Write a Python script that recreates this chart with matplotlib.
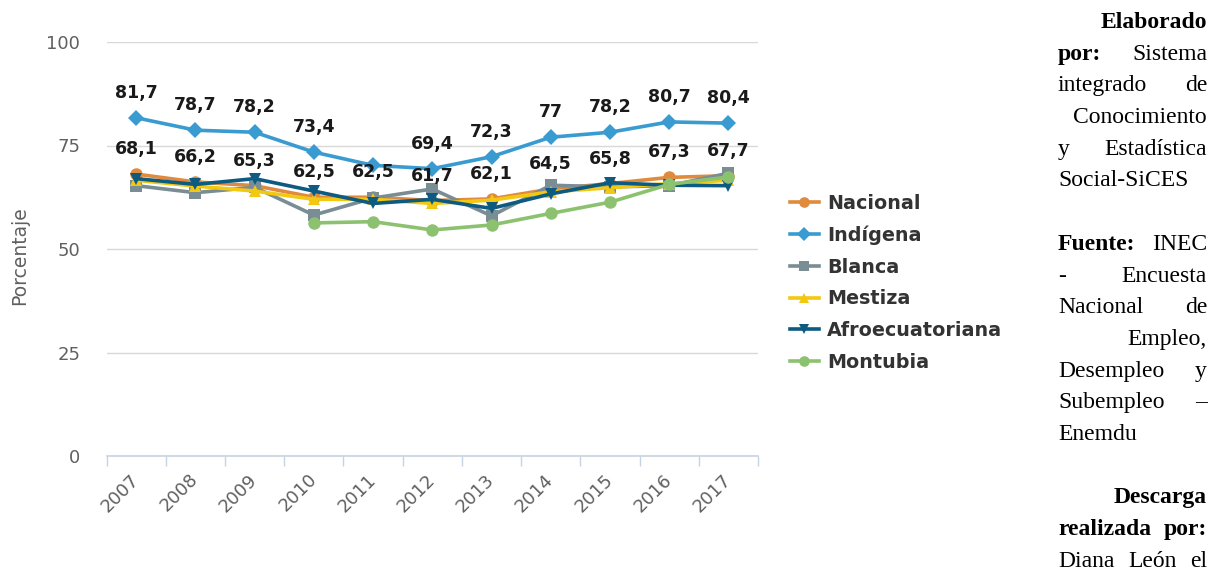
import numpy as np
import matplotlib
matplotlib.use("Agg")
import matplotlib.pyplot as plt

years = ["2007", "2008", "2009", "2010", "2011", "2012", "2013", "2014", "2015", "2016", "2017"]

nacional = [68.1, 66.2, 65.3, 62.5, 62.5, 61.7, 62.1, 64.5, 65.8, 67.3, 67.7]
indigena = [81.7, 78.7, 78.2, 73.4, 70.2, 69.4, 72.3, 77.0, 78.2, 80.7, 80.4]
blanca = [65.3, 63.6, 64.9, 58.2, 62.3, 64.5, 58.0, 65.4, 65.0, 65.3, 68.3]
mestiza = [66.6, 65.2, 64.0, 62.0, 62.0, 61.0, 61.8, 63.8, 64.8, 65.8, 66.6]
afro = [67.0, 65.6, 67.0, 64.0, 61.0, 62.0, 59.8, 63.3, 66.0, 65.4, 65.3]
montubia = [np.nan, np.nan, np.nan, 56.3, 56.6, 54.6, 55.8, 58.6, 61.3, 65.6, 67.4]

series_names = ["Nacional", "Indígena", "Blanca", "Mestiza", "Afroecuatoriana", "Montubia"]
series_vals = [nacional, indigena, blanca, mestiza, afro, montubia]
colors = ["#e08a3e", "#3a9bd0", "#7a8c94", "#f2c811", "#0d5b80", "#8cc26f"]
markers = ["o", "D", "s", "^", "v", "o"]

# which series get value labels (Indígena skips 2011)
label_series = {"Nacional": [True] * 11,
                "Indígena": [True, True, True, True, False, True, True, True, True, True, True]}

W, H = 1218, 571
fig = plt.figure(figsize=(W / 100, H / 100), dpi=100)
ax = fig.add_axes([106.6 / W, 1 - 456 / H, (758 - 106.6) / W, (456 - 42) / H])

x = np.arange(len(years))
for name, vals, c, m in zip(series_names, series_vals, colors, markers):
    ax.plot(x, vals, color=c, lw=2.6, marker=m, ms=9 if m != "D" else 8.5,
            markeredgewidth=0, label=name, zorder=3)
    if name in label_series:
        for xi, v, show in zip(x, vals, label_series[name]):
            if show:
                ax.annotate(f"{v:g}".replace(".", ","), (xi, v), xytext=(0, 25),
                            textcoords="offset pixels", ha="center", va="center",
                            fontsize=12.5, fontweight="bold", color="#1a1a1a", zorder=5)

ax.set_xlim(-0.5, len(years) - 0.5)
ax.set_ylim(0, 100)
ax.set_yticks([0, 25, 50, 75, 100])
ax.tick_params(axis="y", length=0, labelsize=13, labelcolor="#606060", pad=19)
for yv in [25, 50, 75, 100]:
    ax.axhline(yv, color="#d9d9d9", lw=1, zorder=1)

ax.set_xticks(x)
ax.set_xticklabels(years, rotation=45, ha="right", va="center", rotation_mode="anchor")
ax.tick_params(axis="x", length=0, labelsize=13, labelcolor="#606060", pad=15)
ax.set_xticks(np.arange(-0.5, len(years)), minor=True)
ax.tick_params(axis="x", which="minor", length=7.5, color="#c6d3e2", width=1)

for s in ["top", "right", "left"]:
    ax.spines[s].set_visible(False)
ax.spines["bottom"].set_color("#c6d3e2")
ax.spines["bottom"].set_linewidth(1.2)

fig.text(20 / W, 1 - 256 / H, "Porcentaje", rotation=90, ha="center", va="center",
         fontsize=13.5, color="#606060")

leg = fig.legend(loc="upper left", bbox_to_anchor=(790 / W, 1 - 194 / H), frameon=False,
                 prop={"weight": "bold", "size": 13.8}, labelspacing=0.66,
                 handlelength=1.5, handletextpad=0.45, borderpad=0, borderaxespad=0,
                 markerscale=0.85)
for t in leg.get_texts():
    t.set_color("#333333")

# side note, justified by hand
serif = "Liberation Serif"
left, right = 1058, 1207
lines = [
    ([("Elaborado", "bold")], "right"),
    ([("por:", "bold"), ("Sistema", "normal")], "justify"),
    ([("integrado", "normal"), ("de", "normal")], "justify"),
    ([("Conocimiento", "normal")], "right"),
    ([("y", "normal"), ("Estadística", "normal")], "justify"),
    ([("Social-SiCES", "normal")], "left"),
    (None, None),
    ([("Fuente:", "bold"), ("INEC", "normal")], "justify"),
    ([("-", "normal"), ("Encuesta", "normal")], "justify"),
    ([("Nacional", "normal"), ("de", "normal")], "justify"),
    ([("Empleo,", "normal")], "right"),
    ([("Desempleo", "normal"), ("y", "normal")], "justify"),
    ([("Subempleo", "normal"), ("–", "normal")], "justify"),
    ([("Enemdu", "normal")], "left"),
    (None, None),
    ([("Descarga", "bold")], "right"),
    ([("realizada", "bold"), ("por:", "bold")], "justify"),
    ([("Diana", "normal"), ("León", "normal"), ("el", "normal")], "justify"),
]
renderer = fig.canvas.get_renderer()
for i, (words, mode) in enumerate(lines):
    if words is None:
        continue
    yy = 1 - (20 + 31.7 * i) / H
    kw = dict(fontsize=17, family=serif, va="center_baseline", color="black")
    if mode == "right":
        fig.text(right / W, yy, words[0][0], ha="right", fontweight=words[0][1], **kw)
    elif mode == "left":
        fig.text(left / W, yy, words[0][0], ha="left", fontweight=words[0][1], **kw)
    else:
        texts = [fig.text(0, yy, w, ha="left", fontweight=wt, **kw) for w, wt in words]
        widths = [t.get_window_extent(renderer).width for t in texts]
        gap = (right - left - sum(widths)) / (len(texts) - 1)
        xp = left
        for t, wd in zip(texts, widths):
            t.set_x(xp / W)
            xp += wd + gap

fig.savefig("out.png", dpi=100)
